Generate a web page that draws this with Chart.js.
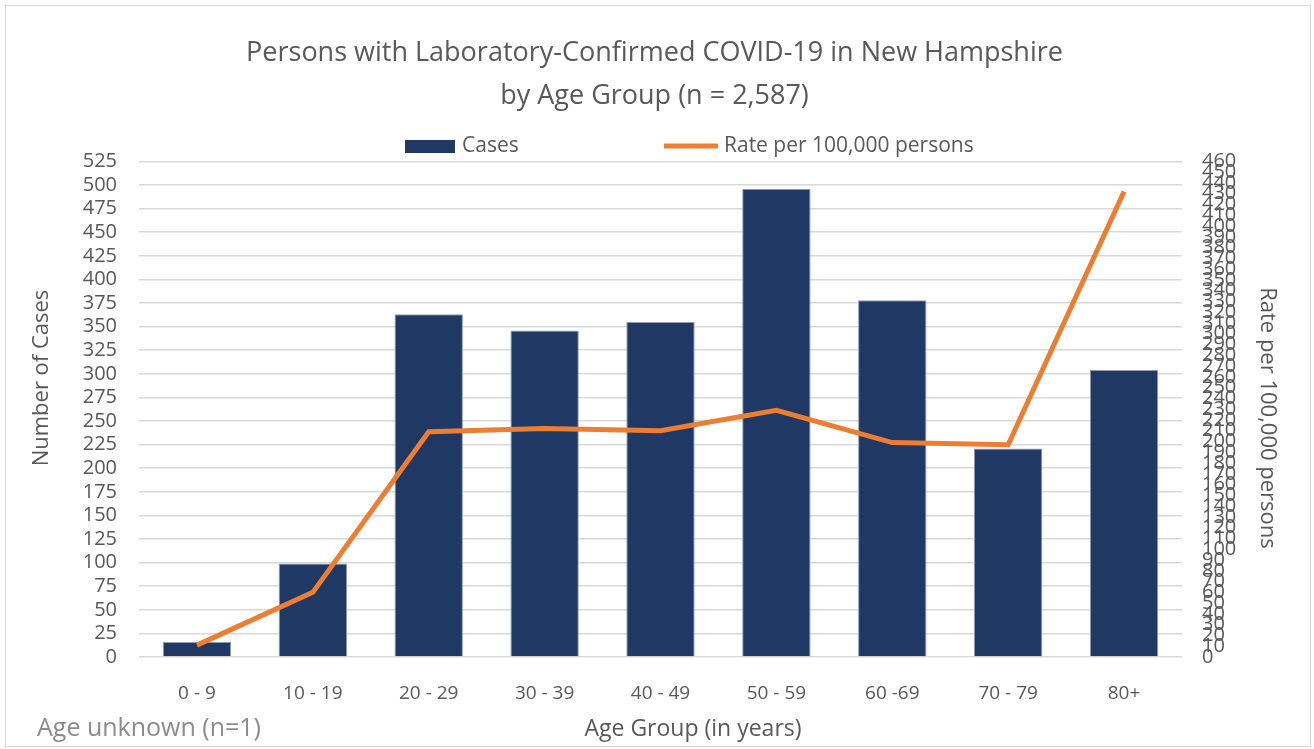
<!DOCTYPE html>
<html>
<head>
<meta charset="utf-8">
<script src="https://cdn.jsdelivr.net/npm/chart.js@4/dist/chart.umd.min.js"></script>
<style>
    body { margin: 0; background: #fff; }
    #frame { position: absolute; left: 5px; top: 5px; width: 1304px; height: 740px; border: 1px solid #d9d9d9; }
    #wrap { position: absolute; left: 0; top: 0; width: 1314px; height: 749px; }
</style>
</head>
<body>
<div id="frame"></div>
<div id="wrap"><canvas id="chart"></canvas></div>
<script>
const ageGroups = ['0 - 9', '10 - 19', '20 - 29', '30 - 39', '40 - 49', '50 - 59', '60 -69', '70 - 79', '80+'];
const cases = [16, 99, 363, 346, 355, 496, 378, 221, 304];
const ratePer100k = [11, 60, 209, 212, 210, 229, 199, 197, 432];

const FONT = "'Open Sans', 'Noto Sans', sans-serif";
const GREY = '#595959';
const NAVY = '#203864';
const ORANGE = '#ED7D31';

// legend, axis titles and footnote drawn by hand
const extras = {
    id: 'extras',
    afterDraw(chart) {
        const ctx = chart.ctx;
        ctx.save();
        ctx.textBaseline = 'middle';
        ctx.font = `21px ${FONT}`;
        ctx.fillStyle = NAVY;
        ctx.fillRect(405, 140, 50, 13);
        ctx.fillStyle = GREY;
        ctx.fillText('Cases', 462, 146);
        ctx.strokeStyle = ORANGE;
        ctx.lineWidth = 5;
        ctx.beginPath();
        ctx.moveTo(664, 146);
        ctx.lineTo(718, 146);
        ctx.stroke();
        ctx.fillText('Rate per 100,000 persons', 724, 146);

        ctx.textAlign = 'center';
        ctx.font = `22px ${FONT}`;
        ctx.save();
        ctx.translate(42, 378);
        ctx.rotate(-Math.PI / 2);
        ctx.fillText('Number of Cases', 0, 0);
        ctx.restore();
        ctx.save();
        ctx.translate(1267, 418);
        ctx.rotate(Math.PI / 2);
        ctx.fillText('Rate per 100,000 persons', 0, 0);
        ctx.restore();
        ctx.font = `23px ${FONT}`;
        ctx.fillText('Age Group (in years)', 693, 729);

        ctx.textAlign = 'left';
        ctx.font = `25px ${FONT}`;
        ctx.fillStyle = '#8c8c8c';
        ctx.fillText('Age unknown (n=1)', 37, 729);
        ctx.restore();
    }
};

const ctx = document.getElementById('chart').getContext('2d');
new Chart(ctx, {
    data: {
        labels: ageGroups,
        datasets: [
            {
                type: 'line',
                label: 'Rate per 100,000 persons',
                data: ratePer100k,
                yAxisID: 'y1',
                borderColor: ORANGE,
                borderWidth: 5,
                pointRadius: 0,
                tension: 0,
                order: 0
            },
            {
                type: 'bar',
                label: 'Cases',
                data: cases,
                yAxisID: 'y',
                backgroundColor: NAVY,
                borderColor: '#8f9bb3',
                borderWidth: 1,
                categoryPercentage: 1,
                barPercentage: 0.59,
                order: 1
            }
        ]
    },
    options: {
        responsive: true,
        maintainAspectRatio: false,
        animation: false,
        layout: { padding: { left: 30, right: 35, top: 0, bottom: 9 } },
        plugins: {
            legend: { display: false },
            tooltip: { enabled: false },
            title: {
                display: true,
                text: 'Persons with Laboratory-Confirmed COVID-19 in New Hampshire',
                color: GREY,
                font: { family: FONT, size: 27, weight: 'normal', lineHeight: 1.1 },
                padding: { top: 38, bottom: 0 }
            },
            subtitle: {
                display: true,
                text: 'by Age Group (n = 2,587)',
                color: GREY,
                font: { family: FONT, size: 27, weight: 'normal', lineHeight: 1.1 },
                padding: { top: 14, bottom: 50 }
            }
        },
        scales: {
            x: {
                grid: { display: false },
                border: { display: false },
                ticks: { color: GREY, font: { family: FONT, size: 19 }, padding: 17, maxRotation: 0 },
                afterFit: s => { s.height = 83; }
            },
            y: {
                position: 'left',
                min: 0,
                max: 525,
                grid: { color: '#d9d9d9', lineWidth: 1.5, drawTicks: false },
                border: { display: false },
                ticks: { stepSize: 25, autoSkip: false, color: GREY, font: { family: FONT, size: 20 }, padding: 22 },
                afterFit: s => { s.width = 109; }
            },
            y1: {
                position: 'right',
                min: 0,
                max: 460,
                grid: { drawOnChartArea: false, drawTicks: false },
                border: { display: false },
                ticks: { stepSize: 10, autoSkip: false, color: GREY, font: { family: FONT, size: 20 }, padding: 20 },
                afterFit: s => { s.width = 97; }
            }
        }
    },
    plugins: [extras]
});
</script>
</body>
</html>
